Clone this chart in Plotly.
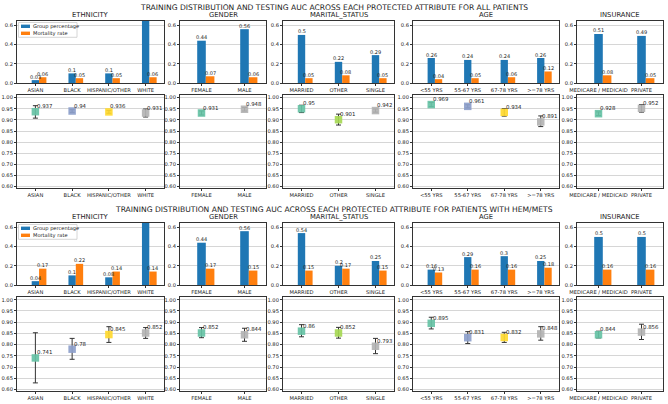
import plotly.graph_objects as go

W, H = 668, 404
FONT = "DejaVu Sans"

# ---------------- categories / tick labels ----------------
eth_labels = ["ASIAN", "BLACK", "HISPANIC/OTHER", "WHITE"]
gen_labels = ["FEMALE", "MALE"]
mar_labels = ["MARRIED", "OTHER", "SINGLE"]
age_labels = ["<55 YRS", "55-67 YRS", "67-78 YRS", ">=78 YRS"]
ins_labels = ["MEDICARE / MEDICAID", "PRIVATE"]
panel_titles = ["ETHNICITY", "GENDER", "MARITAL_STATUS", "AGE", "INSURANCE"]
bar_ticks = [0.0, 0.2, 0.4, 0.6]
bar_ticktext = ["0.0", "0.2", "0.4", "0.6"]
auc_ticks = [0.60, 0.65, 0.70, 0.75, 0.80, 0.85, 0.90, 0.95, 1.00]
auc_ticktext = ["0.60", "0.65", "0.70", "0.75", "0.80", "0.85", "0.90", "0.95", "1.00"]

# ---------------- ALL PATIENTS ----------------
all_grp_eth = [0.03, 0.1, 0.1, 0.77]
all_mort_eth = [0.06, 0.05, 0.05, 0.06]
all_grp_gen = [0.44, 0.56]
all_mort_gen = [0.07, 0.06]
all_grp_mar = [0.5, 0.22, 0.29]
all_mort_mar = [0.05, 0.08, 0.05]
all_grp_age = [0.26, 0.24, 0.24, 0.26]
all_mort_age = [0.04, 0.05, 0.06, 0.12]
all_grp_ins = [0.51, 0.49]
all_mort_ins = [0.08, 0.05]

all_auc_eth = [0.937, 0.94, 0.936, 0.931]
all_lo_eth = [0.908, 0.934, 0.930, 0.913]
all_hi_eth = [0.964, 0.946, 0.942, 0.949]
all_auc_gen = [0.931, 0.948]
all_lo_gen = [0.922, 0.940]
all_hi_gen = [0.940, 0.956]
all_auc_mar = [0.95, 0.901, 0.942]
all_lo_mar = [0.933, 0.877, 0.935]
all_hi_mar = [0.966, 0.926, 0.949]
all_auc_age = [0.969, 0.961, 0.934, 0.891]
all_lo_age = [0.960, 0.954, 0.917, 0.870]
all_hi_age = [0.978, 0.968, 0.951, 0.918]
all_auc_ins = [0.928, 0.952]
all_lo_ins = [0.920, 0.935]
all_hi_ins = [0.936, 0.969]

# ---------------- PATIENTS WITH HEM/METS ----------------
hm_grp_eth = [0.04, 0.1, 0.08, 0.78]
hm_mort_eth = [0.17, 0.22, 0.14, 0.14]
hm_grp_gen = [0.44, 0.56]
hm_mort_gen = [0.17, 0.15]
hm_grp_mar = [0.54, 0.2, 0.25]
hm_mort_mar = [0.15, 0.17, 0.15]
hm_grp_age = [0.16, 0.29, 0.3, 0.25]
hm_mort_age = [0.13, 0.16, 0.16, 0.18]
hm_grp_ins = [0.5, 0.5]
hm_mort_ins = [0.16, 0.16]

hm_auc_eth = [0.741, 0.78, 0.845, 0.852]
hm_lo_eth = [0.630, 0.735, 0.810, 0.828]
hm_hi_eth = [0.853, 0.828, 0.880, 0.876]
hm_auc_gen = [0.852, 0.844]
hm_lo_gen = [0.831, 0.815]
hm_hi_gen = [0.876, 0.873]
hm_auc_mar = [0.86, 0.852, 0.793]
hm_lo_mar = [0.835, 0.829, 0.760]
hm_hi_mar = [0.889, 0.877, 0.828]
hm_auc_age = [0.895, 0.831, 0.832, 0.848]
hm_lo_age = [0.870, 0.805, 0.810, 0.820]
hm_hi_age = [0.922, 0.858, 0.855, 0.880]
hm_auc_ins = [0.844, 0.856]
hm_lo_ins = [0.830, 0.823]
hm_hi_ins = [0.860, 0.891]

main_titles = [
    "TRAINING DISTRIBUTION AND TESTING AUC ACROSS EACH PROTECTED ATTRIBUTE FOR ALL PATIENTS",
    "TRAINING DISTRIBUTION AND TESTING AUC ACROSS EACH PROTECTED ATTRIBUTE FOR PATIENTS WITH HEM/METS",
]

# ---------------- styles ----------------
BLUE = "#1f77b4"
ORANGE = "#ff7f0e"
TEAL = "#66c2a5"
PBLUE = "#8da0cb"
YEL = "#ffd92f"
GRAY = "#b3b3b3"
LIME = "#a6d854"
eth_colors = [TEAL, PBLUE, YEL, GRAY]
gen_colors = [TEAL, GRAY]
mar_colors = [TEAL, LIME, GRAY]
age_colors = [TEAL, PBLUE, YEL, GRAY]
ins_colors = [TEAL, GRAY]

labels_list = [eth_labels, gen_labels, mar_labels, age_labels, ins_labels]
colors_list = [eth_colors, gen_colors, mar_colors, age_colors, ins_colors]
blocks = [
    dict(grp=[all_grp_eth, all_grp_gen, all_grp_mar, all_grp_age, all_grp_ins],
         mort=[all_mort_eth, all_mort_gen, all_mort_mar, all_mort_age, all_mort_ins],
         auc=[all_auc_eth, all_auc_gen, all_auc_mar, all_auc_age, all_auc_ins],
         lo=[all_lo_eth, all_lo_gen, all_lo_mar, all_lo_age, all_lo_ins],
         hi=[all_hi_eth, all_hi_gen, all_hi_mar, all_hi_age, all_hi_ins]),
    dict(grp=[hm_grp_eth, hm_grp_gen, hm_grp_mar, hm_grp_age, hm_grp_ins],
         mort=[hm_mort_eth, hm_mort_gen, hm_mort_mar, hm_mort_age, hm_mort_ins],
         auc=[hm_auc_eth, hm_auc_gen, hm_auc_mar, hm_auc_age, hm_auc_ins],
         lo=[hm_lo_eth, hm_lo_gen, hm_lo_mar, hm_lo_age, hm_lo_ins],
         hi=[hm_hi_eth, hm_hi_gen, hm_hi_mar, hm_hi_age, hm_hi_ins]),
]

# layout geometry in pixels
col_px = [(17, 164), (180, 266), (283, 394), (413, 559), (577, 663)]
row_px = [(21, 83), (95, 188), (223, 285), (297, 391)]
main_title_y = [7.3, 209.8]
sub_title_y = [15.4, 217.4]

F_MAIN = 7.6
F_SUB = 6.8
F_TICK = 5.2
F_BAR = 5.0
F_AUC = 5.4
F_LEG = 5.1


def px_x(v):
    return v / W


def px_y(v):
    return 1 - v / H


def fmt(v):
    return f"{v:g}"


fig = go.Figure()
layout = {}
annotations = []
shapes = []
TXT = "#222222"
LINE = "#333333"
GRID = "#d6d6d6"

for b, blk in enumerate(blocks):
    annotations.append(dict(xref="paper", yref="paper", x=0.5, y=px_y(main_title_y[b]),
                            text=main_titles[b], showarrow=False, xanchor="center",
                            yanchor="middle", borderpad=0,
                            font=dict(size=F_MAIN, color=TXT, family=FONT)))
    for c in range(5):
        labs = labels_list[c]
        n = len(labs)
        xs = list(range(n))
        for kind in range(2):
            r = 2 * b + kind
            k = r * 5 + c + 1
            xn = "x" if k == 1 else f"x{k}"
            yn = "y" if k == 1 else f"y{k}"
            xk = "xaxis" if k == 1 else f"xaxis{k}"
            yk = "yaxis" if k == 1 else f"yaxis{k}"
            x0, x1 = col_px[c]
            yt, yb = row_px[r]
            layout[xk] = dict(domain=[px_x(x0), px_x(x1)], anchor=yn, range=[-0.5, n - 0.5],
                              tickvals=xs, ticktext=labs, showgrid=False, zeroline=False,
                              showline=True, mirror=True, linecolor=LINE, linewidth=1,
                              ticks="outside", ticklen=2, tickwidth=0.8, tickcolor=LINE,
                              tickangle=0, automargin=False, fixedrange=True,
                              tickfont=dict(size=F_TICK, color=TXT, family=FONT))
            ycfg = dict(domain=[px_y(yb), px_y(yt)], anchor=xn, showgrid=True, gridcolor=GRID,
                        gridwidth=1.3, zeroline=False, showline=True, mirror=True,
                        linecolor=LINE, linewidth=1, ticks="outside", ticklen=2,
                        tickwidth=0.8, tickcolor=LINE, automargin=False, fixedrange=True,
                        tickfont=dict(size=F_TICK, color=TXT, family=FONT))
            if kind == 0:
                ycfg.update(range=[0, 0.645], tickvals=bar_ticks, ticktext=bar_ticktext)
                grp = blk["grp"][c]
                mort = blk["mort"][c]
                xo = [i + 0.2 for i in xs]
                fig.add_trace(go.Bar(x=xs, y=grp, width=0.2, marker=dict(color=BLUE, line=dict(width=0)),
                                     xaxis=xn, yaxis=yn, showlegend=False, name="Group percentage"))
                fig.add_trace(go.Bar(x=xo, y=mort, width=0.2, marker=dict(color=ORANGE, line=dict(width=0)),
                                     xaxis=xn, yaxis=yn, showlegend=False, name="Mortality rate"))
                for xv, yv in list(zip(xs, grp)) + list(zip(xo, mort)):
                    annotations.append(dict(xref=xn, yref=yn, x=xv, y=yv, text=fmt(yv),
                                            showarrow=False, xanchor="center", yanchor="bottom",
                                            borderpad=0, yshift=-0.5,
                                            font=dict(size=F_BAR, color=TXT, family=FONT)))
                annotations.append(dict(xref="paper", yref="paper", x=px_x((x0 + x1) / 2),
                                        y=px_y(sub_title_y[b]), text=panel_titles[c], showarrow=False,
                                        xanchor="center", yanchor="middle", borderpad=0,
                                        font=dict(size=F_SUB, color=TXT, family=FONT)))
            else:
                ycfg.update(range=[0.594, 1.012], tickvals=auc_ticks, ticktext=auc_ticktext)
                auc = blk["auc"][c]
                lo = blk["lo"][c]
                hi = blk["hi"][c]
                fig.add_trace(go.Scatter(
                    x=xs, y=auc, mode="markers", xaxis=xn, yaxis=yn, showlegend=False,
                    marker=dict(symbol="square", size=7.5, color=colors_list[c], opacity=0.92,
                                line=dict(width=0)),
                    error_y=dict(type="data", symmetric=False,
                                 array=[h - v for h, v in zip(hi, auc)],
                                 arrayminus=[v - l for v, l in zip(auc, lo)],
                                 color="#333333", thickness=1.0, width=2.5)))
                for xv, yv in zip(xs, auc):
                    annotations.append(dict(xref=xn, yref=yn, x=xv, y=yv, text=fmt(yv),
                                            showarrow=False, xanchor="left", yanchor="bottom",
                                            borderpad=0, xshift=0.5, yshift=1.5,
                                            font=dict(size=F_AUC, color=TXT, family=FONT)))
            layout[yk] = ycfg

    # manual legend inside the ethnicity bar panel
    top = row_px[2 * b][0]
    shapes.append(dict(type="rect", xref="paper", yref="paper", x0=px_x(18.5), x1=px_x(77),
                       y0=px_y(top + 16.3), y1=px_y(top + 1.5), line=dict(color="#cccccc", width=0.8),
                       fillcolor="rgba(255,255,255,0.85)", layer="above"))
    for j, (col, name) in enumerate([(BLUE, "Group percentage"), (ORANGE, "Mortality rate")]):
        cy = top + 5.3 + 7.0 * j
        shapes.append(dict(type="rect", xref="paper", yref="paper", x0=px_x(21), x1=px_x(30),
                           y0=px_y(cy + 1.7), y1=px_y(cy - 1.7), line=dict(width=0),
                           fillcolor=col, layer="above"))
        annotations.append(dict(xref="paper", yref="paper", x=px_x(32), y=px_y(cy), text=name,
                                showarrow=False, xanchor="left", yanchor="middle", borderpad=0,
                                font=dict(size=F_LEG, color=TXT, family=FONT)))

fig.update_layout(**layout)
fig.update_layout(template="none", width=W, height=H, margin=dict(l=0, r=0, t=0, b=0, pad=0),
                  barmode="overlay", autosize=False,
                  paper_bgcolor="white", plot_bgcolor="white", showlegend=False,
                  font=dict(family=FONT, color=TXT), annotations=annotations, shapes=shapes)
fig.write_html("out.html", config={"displayModeBar": False},
               post_script="document.body.style.margin='0px';document.body.style.overflow='hidden';")
